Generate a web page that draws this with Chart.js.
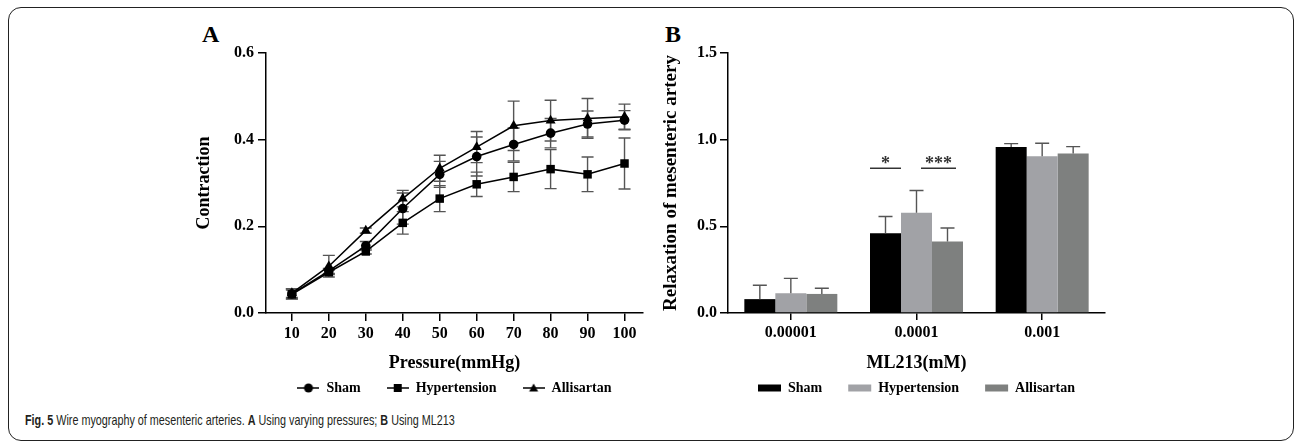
<!DOCTYPE html>
<html>
<head>
<meta charset="utf-8">
<title>Fig. 5 Wire myography</title>
<script src="https://cdn.jsdelivr.net/npm/chart.js@4.4.1/dist/chart.umd.min.js"></script>
<style>
html,body{margin:0;padding:0;background:#fff;}
body{width:1295px;height:442px;position:relative;overflow:hidden;}
#frame{position:absolute;left:8px;top:7px;width:1286px;height:434px;border:1.5px solid #222;border-radius:13px;box-sizing:border-box;}
.letter{position:absolute;font:bold 24px 'Liberation Serif',serif;line-height:24px;color:#000;}
canvas{position:absolute;top:20px;}
#chartA{left:180px;}
#chartB{left:640px;}
#caption{position:absolute;left:25px;top:412px;font:15px 'Liberation Sans',sans-serif;line-height:16px;color:#231f20;white-space:nowrap;transform:scaleX(0.72);transform-origin:0 0;}
#caption b{font-weight:bold;}
</style>
</head>
<body>
<div id="frame"></div>
<span class="letter" style="left:202px;top:22px;">A</span>
<span class="letter" style="left:665px;top:22px;">B</span>
<canvas id="chartA" width="475" height="385"></canvas>
<canvas id="chartB" width="480" height="385"></canvas>
<div id="caption"><b>Fig. 5</b> Wire myography of mesenteric arteries. <b>A</b> Using varying pressures; <b>B</b> Using ML213</div>
<script>
/* Data: panel A */
const groupNames = ['Sham', 'Hypertension', 'Allisartan'];
const pressures = [10, 20, 30, 40, 50, 60, 70, 80, 90, 100];
const shamA = [0.044, 0.097, 0.155, 0.241, 0.320, 0.361, 0.389, 0.415, 0.436, 0.445];
const shamAErr = [0.012, 0.006, 0.010, 0.036, 0.030, 0.045, 0.038, 0.034, 0.030, 0.022];
const hyperA = [0.043, 0.094, 0.142, 0.208, 0.264, 0.297, 0.314, 0.332, 0.320, 0.345];
const hyperAErr = [0.010, 0.005, 0.006, 0.026, 0.030, 0.028, 0.034, 0.045, 0.040, 0.059];
const allisA = [0.046, 0.108, 0.190, 0.264, 0.334, 0.383, 0.432, 0.444, 0.449, 0.453];
const allisAErr = [0.010, 0.025, 0.006, 0.019, 0.030, 0.036, 0.057, 0.047, 0.046, 0.029];
const pressureTicks = [10, 20, 30, 40, 50, 60, 70, 80, 90, 100];
const contractionTicks = [0, 0.2, 0.4, 0.6];

/* Data: panel B */
const doses = ['0.00001', '0.0001', '0.001'];
const shamB = [0.080, 0.460, 0.957];
const shamBErr = [0.080, 0.097, 0.020];
const hyperB = [0.114, 0.578, 0.905];
const hyperBErr = [0.086, 0.129, 0.074];
const allisB = [0.110, 0.412, 0.920];
const allisBErr = [0.033, 0.078, 0.040];
const relaxTicks = [0, 0.5, 1.0, 1.5];
const sigLevel = 0.835;
const sigMarks = [{text: '*', dose: 1, series: 0}, {text: '***', dose: 1, series: 2}];

const SERIF = "'Liberation Serif', 'Times New Roman', serif";
Chart.defaults.font.family = SERIF;
Chart.defaults.color = '#000';

const toXY = (xs, ys) => xs.map((x, i) => ({x, y: ys[i]}));
const fixedTicks = list => scale => { scale.ticks = list.map(v => ({value: v})); };

/* error bars drawn off the y scale; both ways for points, upward for bars */
function drawErrors(chart, upOnly, cap) {
  const {ctx} = chart;
  const y = chart.scales.y;
  ctx.save();
  ctx.strokeStyle = '#555';
  ctx.lineWidth = 1.4;
  chart.data.datasets.forEach((ds, i) => {
    const meta = chart.getDatasetMeta(i);
    meta.data.forEach((el, j) => {
      const d = ds.data[j];
      const v = typeof d === 'object' ? d.y : d;
      const e = ds.errors[j];
      const top = y.getPixelForValue(v + e);
      const bot = upOnly ? el.y : y.getPixelForValue(v - e);
      ctx.beginPath();
      ctx.moveTo(el.x, top); ctx.lineTo(el.x, bot);
      ctx.moveTo(el.x - cap / 2, top); ctx.lineTo(el.x + cap / 2, top);
      if (!upOnly) { ctx.moveTo(el.x - cap / 2, bot); ctx.lineTo(el.x + cap / 2, bot); }
      ctx.stroke();
    });
  });
  ctx.restore();
}
const errorsA = {id: 'errorsA', beforeDatasetsDraw(chart) { drawErrors(chart, false, 12); }};
const errorsB = {id: 'errorsB', afterDatasetsDraw(chart) { drawErrors(chart, true, 14); }};

/* significance bars over the 0.0001 group */
const sigPlugin = {
  id: 'sig',
  afterDatasetsDraw(chart, args, opts) {
    const {ctx} = chart;
    const yy = chart.scales.y.getPixelForValue(sigLevel);
    ctx.save();
    ctx.strokeStyle = '#333';
    ctx.fillStyle = '#333';
    ctx.lineWidth = 1.5;
    ctx.font = 'bold 18px ' + SERIF;
    ctx.textAlign = 'center';
    ctx.textBaseline = 'alphabetic';
    sigMarks.forEach((m, k) => {
      const bar = chart.getDatasetMeta(m.series).data[m.dose];
      const cx = bar.x + opts.shift[k];
      const half = bar.width / 2 + opts.grow[k];
      ctx.beginPath();
      ctx.moveTo(cx - half, yy); ctx.lineTo(cx + half, yy);
      ctx.stroke();
      ctx.fillText(m.text, cx, yy + 1);
    });
    ctx.restore();
  }
};

/* legend icons for panel A: short line with the marker */
function lineIcon(kind) {
  const c = document.createElement('canvas');
  c.width = 22; c.height = 12;
  const g = c.getContext('2d');
  g.fillStyle = '#000'; g.strokeStyle = '#000'; g.lineWidth = 1.5;
  g.beginPath(); g.moveTo(0, 6); g.lineTo(22, 6); g.stroke();
  g.beginPath();
  if (kind === 'circle') g.arc(11, 6, 4.5, 0, Math.PI * 2);
  else if (kind === 'rect') g.rect(7, 2, 8, 8);
  else { g.moveTo(11, 1.5); g.lineTo(15.5, 9.5); g.lineTo(6.5, 9.5); g.closePath(); }
  g.fill();
  return c;
}

function axisStyle(tickLength) {
  return {
    grid: {display: true, drawOnChartArea: false, drawTicks: true, tickLength, color: '#000', lineWidth: 1.5},
    border: {display: true, color: '#000', width: 1.5}
  };
}
const tickFont = {size: 16, weight: 'bold'};
const titleFont = {size: 18, weight: 'bold'};

/* Panel A */
const markers = ['circle', 'rect', 'triangle'];
const radii = [4.8, 6, 5.8];
new Chart(document.getElementById('chartA'), {
  type: 'line',
  data: {
    datasets: [[shamA, shamAErr], [hyperA, hyperAErr], [allisA, allisAErr]].map(([vals, errs], i) => ({
      label: groupNames[i],
      data: toXY(pressures, vals),
      errors: errs,
      borderColor: '#000',
      borderWidth: 1.5,
      backgroundColor: '#000',
      pointBackgroundColor: '#000',
      pointBorderWidth: 0,
      pointStyle: markers[i],
      pointRadius: radii[i],
      tension: 0
    }))
  },
  options: {
    responsive: false,
    animation: false,
    events: [],
    layout: {padding: {top: 33, right: 12, left: 0, bottom: 0}},
    plugins: {
      tooltip: {enabled: false},
      legend: {
        position: 'bottom',
        fullSize: false,
        labels: {
          usePointStyle: true,
          pointStyleWidth: 22,
          padding: 26,
          color: '#000',
          font: {size: 14, weight: 'bold'},
          generateLabels: chart => chart.data.datasets.map((ds, i) => ({
            text: ds.label, pointStyle: lineIcon(markers[i]), fillStyle: '#000',
            strokeStyle: '#000', lineWidth: 0, hidden: false, datasetIndex: i, fontColor: '#000'
          }))
        }
      }
    },
    scales: {
      x: {
        type: 'linear', min: 3, max: 105,
        afterBuildTicks: fixedTicks(pressureTicks),
        ...axisStyle(8),
        ticks: {autoSkip: false, maxRotation: 0, padding: 3, color: '#000', font: tickFont},
        title: {display: true, text: 'Pressure(mmHg)', color: '#000', font: titleFont, padding: {top: 6, bottom: -18.8}}
      },
      y: {
        min: 0, max: 0.6,
        afterBuildTicks: fixedTicks(contractionTicks),
        afterFit: s => { s.width = 86; },
        ...axisStyle(8),
        ticks: {padding: 4, color: '#000', font: tickFont, callback: v => v.toFixed(1)},
        title: {display: true, text: 'Contraction', color: '#000', font: titleFont, padding: {top: 14, bottom: 0}}
      }
    }
  },
  plugins: [errorsA]
});

/* Panel B */
const barColors = ['#000000', '#a1a2a6', '#7e807f'];
new Chart(document.getElementById('chartB'), {
  type: 'bar',
  data: {
    labels: doses,
    datasets: [[shamB, shamBErr], [hyperB, hyperBErr], [allisB, allisBErr]].map(([vals, errs], i) => ({
      label: groupNames[i],
      data: vals,
      errors: errs,
      backgroundColor: barColors[i],
      borderWidth: 0,
      categoryPercentage: 0.74,
      barPercentage: 1
    }))
  },
  options: {
    responsive: false,
    animation: false,
    events: [],
    layout: {padding: {top: 33, right: 15, left: 0, bottom: 0}},
    plugins: {
      tooltip: {enabled: false},
      legend: {
        position: 'bottom',
        fullSize: false,
        labels: {boxWidth: 23, boxHeight: 7, padding: 26, color: '#000', font: {size: 14, weight: 'bold'}}
      },
      sig: {shift: [0, -9], grow: [0, 2]}
    },
    scales: {
      x: {
        ...axisStyle(7),
        grid: {display: true, drawOnChartArea: false, drawTicks: true, offset: false, tickLength: 7, color: '#000', lineWidth: 1.5},
        ticks: {autoSkip: false, maxRotation: 0, padding: 3, color: '#000', font: tickFont},
        title: {display: true, text: 'ML213(mM)', color: '#000', font: titleFont, padding: {top: 7, bottom: -18.8}}
      },
      y: {
        min: 0, max: 1.5,
        afterBuildTicks: fixedTicks(relaxTicks),
        afterFit: s => { s.width = 88; },
        ...axisStyle(8),
        ticks: {padding: 3, color: '#000', font: tickFont, callback: v => v.toFixed(1)},
        title: {display: true, text: 'Relaxation of mesenteric artery', color: '#000', font: {size: 19, weight: 'bold'}, padding: {top: 20, bottom: 0}}
      }
    }
  },
  plugins: [errorsB, sigPlugin]
});
</script>
</body>
</html>
